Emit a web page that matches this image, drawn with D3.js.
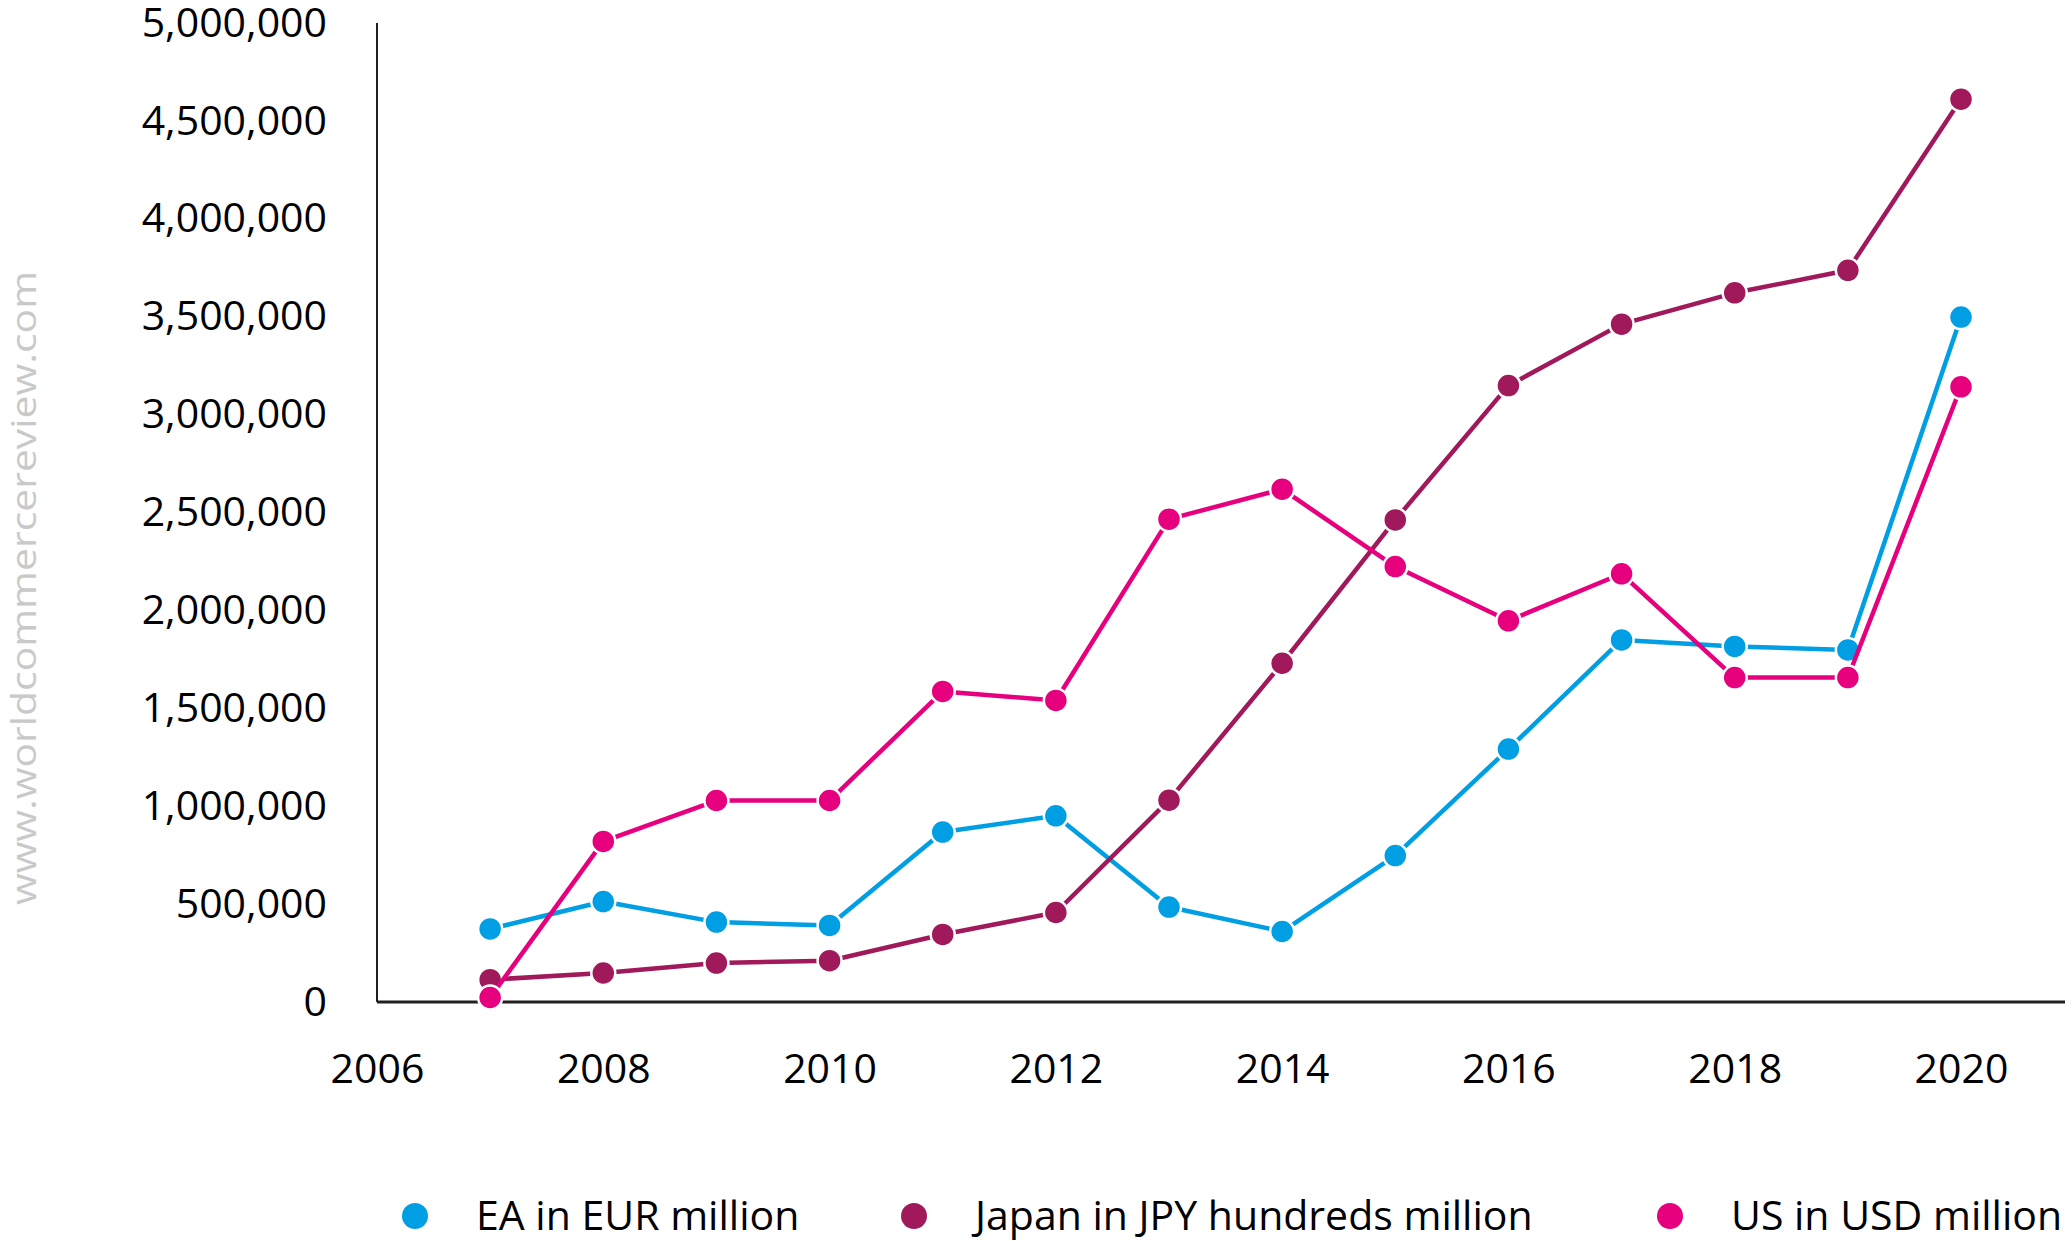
<!DOCTYPE html>
<html>
<head>
<meta charset="utf-8">
<script src="https://cdn.jsdelivr.net/npm/d3@7"></script>
<style>
  html, body { margin: 0; padding: 0; background: #fff; }
  svg { display: block; }
  text { font-family: "Open Sans", "Noto Sans", sans-serif; }
</style>
</head>
<body>
<svg id="chart" width="2072" height="1241"></svg>
<script>
// Years on the horizontal axis
const years = [2007, 2008, 2009, 2010, 2011, 2012, 2013, 2014, 2015, 2016, 2017, 2018, 2019, 2020];

// Series values
const eaEur = [373000, 513000, 408000, 391000, 868000, 951000, 485000, 360000, 748000, 1292000, 1849000, 1816000, 1798000, 3498000];
const japanJpy = [114000, 148000, 199000, 211000, 345000, 457000, 1031000, 1730000, 2462000, 3148000, 3462000, 3622000, 3737000, 4611000];
const usUsd = [23000, 820000, 1029000, 1029000, 1586000, 1540000, 2466000, 2619000, 2224000, 1947000, 2187000, 1657000, 1657000, 3142000];

// Series names and tick labels
const seriesNames = ["EA in EUR million", "Japan in JPY hundreds million", "US in USD million"];
const xTicks = [2006, 2008, 2010, 2012, 2014, 2016, 2018, 2020];
const yTicks = [0, 500000, 1000000, 1500000, 2000000, 2500000, 3000000, 3500000, 4000000, 4500000, 5000000];
const watermark = "www.worldcommercereview.com";

const colors = ["#009FE3", "#A0195A", "#E6007E"];
const series = [eaEur, japanJpy, usUsd].map((vals, i) => ({
  name: seriesNames[i],
  color: colors[i],
  points: years.map((yr, j) => ({ year: yr, value: vals[j] }))
}));

const svg = d3.select("#chart");
const plotLeft = 377, plotRight = 2065, plotTop = 23, plotBottom = 1002;
const fontSize = 41;

const x = d3.scaleLinear().domain([2006, 2020]).range([plotLeft, 1961]);
const y = d3.scaleLinear().domain([0, 5000000]).range([plotBottom, plotTop]);

// Watermark along the left edge
svg.append("text")
  .attr("transform", `translate(36, ${(271 + 905) / 2}) rotate(-90)`)
  .attr("text-anchor", "middle")
  .attr("font-size", 35)
  .attr("fill", "#c9c9c9")
  .attr("textLength", 634)
  .attr("lengthAdjust", "spacingAndGlyphs")
  .text(watermark);

// Y axis
const yAxis = svg.append("g")
  .attr("transform", `translate(${plotLeft},0)`)
  .call(d3.axisLeft(y).tickValues(yTicks).tickSize(0).tickPadding(50).tickFormat(d3.format(",")));
yAxis.select(".domain").remove();
yAxis.selectAll("text").attr("font-size", fontSize).attr("fill", "#000");

// X axis
const xAxis = svg.append("g")
  .attr("transform", `translate(0,${plotBottom})`)
  .call(d3.axisBottom(x).tickValues(xTicks).tickSize(0).tickPadding(52).tickFormat(d3.format("d")));
xAxis.select(".domain").remove();
xAxis.selectAll("text").attr("font-size", fontSize).attr("fill", "#000");

// Axis lines
svg.append("line")
  .attr("x1", plotLeft).attr("x2", plotLeft).attr("y1", plotTop).attr("y2", plotBottom)
  .attr("stroke", "#231F20").attr("stroke-width", 2);
svg.append("line")
  .attr("x1", plotLeft).attr("x2", plotRight).attr("y1", plotBottom).attr("y2", plotBottom)
  .attr("stroke", "#231F20").attr("stroke-width", 3);

// Lines and markers
const line = d3.line().x(d => x(d.year)).y(d => y(d.value));
series.forEach(s => {
  const g = svg.append("g");
  g.append("path")
    .datum(s.points)
    .attr("d", line)
    .attr("fill", "none")
    .attr("stroke", s.color)
    .attr("stroke-width", 4.5)
    .attr("stroke-linejoin", "round");
  g.selectAll("circle")
    .data(s.points)
    .join("circle")
    .attr("cx", d => x(d.year))
    .attr("cy", d => y(d.value))
    .attr("r", 12)
    .attr("fill", s.color)
    .attr("stroke", "#fff")
    .attr("stroke-width", 2.5);
});

// Legend
const legendX = [415, 914, 1670];
const legend = svg.append("g");
series.forEach((s, i) => {
  legend.append("circle")
    .attr("cx", legendX[i]).attr("cy", 1216).attr("r", 13)
    .attr("fill", s.color);
  legend.append("text")
    .attr("x", legendX[i] + 61).attr("y", 1216)
    .attr("dy", "0.35em")
    .attr("font-size", fontSize)
    .attr("fill", "#000")
    .text(s.name);
});
</script>
</body>
</html>
